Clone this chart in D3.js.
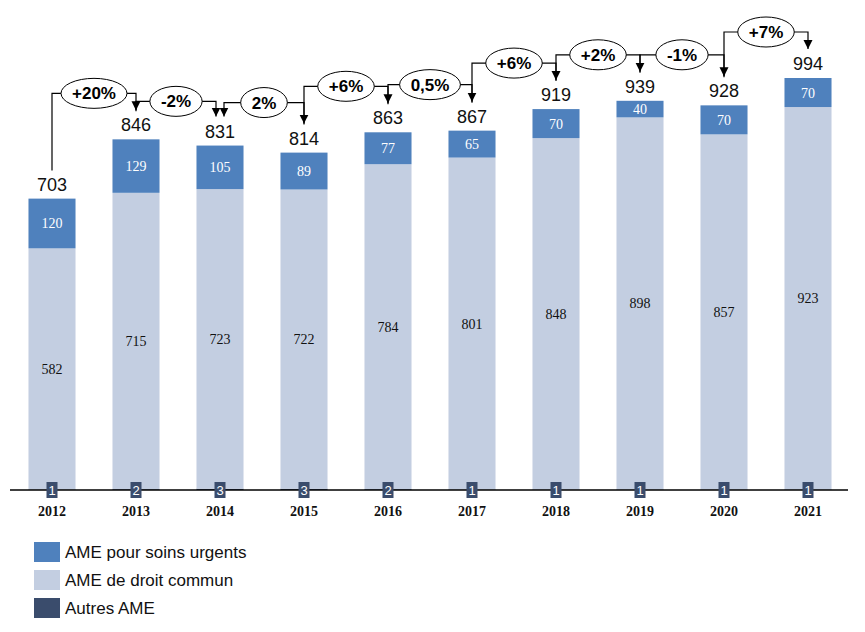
<!DOCTYPE html>
<html lang="fr">
<head>
<meta charset="utf-8">
<title>AME</title>
<script src="https://d3js.org/d3.v7.min.js"></script>
<style>
  body { margin: 0; background: #fff; }
  svg text { font-family: "Liberation Sans", "Noto Sans", sans-serif; }
  .serif { font-family: "Liberation Serif", "DejaVu Serif", serif !important; }
</style>
</head>
<body>
<div id="chart"></div>
<script>
var years = ["2012", "2013", "2014", "2015", "2016", "2017", "2018", "2019", "2020", "2021"];
var urgents = [120, 129, 105, 89, 77, 65, 70, 40, 70, 70];
var droitCommun = [582, 715, 723, 722, 784, 801, 848, 898, 857, 923];
var autres = [1, 2, 3, 3, 2, 1, 1, 1, 1, 1];
var totals = [703, 846, 831, 814, 863, 867, 919, 939, 928, 994];
var evolutions = ["+20%", "-2%", "2%", "+6%", "0,5%", "+6%", "+2%", "-1%", "+7%"];
var legendLabels = ["AME pour soins urgents", "AME de droit commun", "Autres AME"];

var colUrg = "#4f81bd", colDroit = "#c3cee1", colAutres = "#3a4c6c";

var w = 865, h = 632;
var base = 490;

var svg = d3.select("#chart").append("svg")
  .attr("width", w).attr("height", h);

var defs = svg.append("defs");
defs.append("marker")
  .attr("id", "arrow")
  .attr("viewBox", "0 0 10 10")
  .attr("refX", 10).attr("refY", 5)
  .attr("markerWidth", 9).attr("markerHeight", 10)
  .attr("markerUnits", "userSpaceOnUse")
  .attr("orient", "auto-start-reverse")
  .append("path").attr("d", "M0,0L10,5L0,10Z").attr("fill", "#000");

var xScale = d3.scaleBand()
  .domain(years)
  .range([10, 850])
  .paddingInner(0.44)
  .paddingOuter(0.22);

var yScale = d3.scaleLinear()
  .domain([0, 994])
  .range([base, 78]);

var rows = years.map(function(y, i) {
  return { year: y, a: autres[i], d: droitCommun[i], u: urgents[i], t: totals[i] };
});

var stack = d3.stack().keys(["a", "d", "u"]);
var series = stack(rows);
var colors = { a: colAutres, d: colDroit, u: colUrg };

svg.append("g").selectAll("g")
  .data(series)
  .enter().append("g")
  .attr("fill", function(s) { return colors[s.key]; })
  .selectAll("rect")
  .data(function(s) { return s; })
  .enter().append("rect")
  .attr("x", function(d) { return xScale(d.data.year); })
  .attr("width", xScale.bandwidth())
  .attr("y", function(d) { return yScale(d[1]); })
  .attr("height", function(d) { return yScale(d[0]) - yScale(d[1]); });

// segment labels
var cx = function(y) { return xScale(y) + xScale.bandwidth() / 2; };

svg.append("g").selectAll("text")
  .data(rows).enter().append("text")
  .attr("class", "serif")
  .attr("x", function(d) { return cx(d.year); })
  .attr("y", function(d) { return yScale(d.a + d.d / 2) + 5; })
  .attr("text-anchor", "middle")
  .attr("font-size", 14)
  .attr("fill", "#111")
  .text(function(d) { return d.d; });

svg.append("g").selectAll("text")
  .data(rows).enter().append("text")
  .attr("class", "serif")
  .attr("x", function(d) { return cx(d.year); })
  .attr("y", function(d) { return yScale(d.a + d.d + d.u / 2) + 5; })
  .attr("text-anchor", "middle")
  .attr("font-size", 14)
  .attr("fill", "#fff")
  .text(function(d) { return d.u; });

// totals
svg.append("g").selectAll("text")
  .data(rows).enter().append("text")
  .attr("x", function(d) { return cx(d.year); })
  .attr("y", function(d) { return yScale(d.t) - 8; })
  .attr("text-anchor", "middle")
  .attr("font-size", 18)
  .attr("fill", "#111")
  .text(function(d) { return d.t; });

// x axis
var xAxis = d3.axisBottom(xScale).tickSize(0).tickPadding(16);
var gx = svg.append("g")
  .attr("transform", "translate(0," + base + ")")
  .call(xAxis);
gx.select(".domain").attr("stroke", "#000").attr("stroke-width", 1.5).attr("d", "M10,0H848");
gx.selectAll("text")
  .attr("class", "serif")
  .attr("font-size", 14)
  .attr("font-weight", "bold")
  .attr("fill", "#111");

// autres labels boxes
var ga = svg.append("g").selectAll("g")
  .data(rows).enter().append("g")
  .attr("transform", function(d) { return "translate(" + cx(d.year) + "," + base + ")"; });
ga.append("rect")
  .attr("x", -5.5).attr("y", -8).attr("width", 11).attr("height", 16)
  .attr("fill", colAutres);
ga.append("text")
  .attr("text-anchor", "middle")
  .attr("y", 5)
  .attr("font-size", 13)
  .attr("fill", "#fff")
  .text(function(d) { return d.a; });

// evolution connectors
var ann = svg.append("g");
evolutions.forEach(function(lbl, i) {
  var g = ann.append("g");
  var x0 = cx(years[i]), x1 = cx(years[i + 1]);
  var yStart = yScale(totals[i]) - 28;
  var yEnd = yScale(totals[i + 1]) - 29;
  var yH = yScale(Math.max(totals[i], totals[i + 1])) - 46;
  if (i === 1) { x1 -= 4; yH += 8; }
  if (i === 2) { x0 += 4; yH += 3; }
  var path = g.append("path")
    .attr("d", "M" + x0 + "," + yStart + "V" + yH + "H" + x1 + "V" + yEnd)
    .attr("fill", "none")
    .attr("stroke", "#000")
    .attr("stroke-width", 1.2)
    .attr("marker-end", "url(#arrow)");
  if (i === 2) {
    path.attr("d", "M" + x0 + "," + (yScale(totals[i]) - 29) + "V" + yH + "H" + x1 + "V" + yEnd)
      .attr("marker-start", "url(#arrow)");
  }
  var mx = (x0 + x1) / 2;
  var ell = g.append("ellipse");
  var t = g.append("text")
    .attr("x", mx).attr("y", yH + 6)
    .attr("text-anchor", "middle")
    .attr("font-size", 17)
    .attr("font-weight", "bold")
    .attr("fill", "#000")
    .text(lbl);
  var bw = t.node().getComputedTextLength();
  ell.attr("cx", mx).attr("cy", yH)
    .attr("rx", bw / 2 + 11).attr("ry", 15)
    .attr("fill", "#fff")
    .attr("stroke", "#000")
    .attr("stroke-width", 1);
});

// legend
var legColors = [colUrg, colDroit, colAutres];
var leg = svg.append("g").selectAll("g")
  .data(legendLabels).enter().append("g")
  .attr("transform", function(d, i) { return "translate(34," + (542 + i * 28) + ")"; });
leg.append("rect")
  .attr("width", 26).attr("height", 20)
  .attr("fill", function(d, i) { return legColors[i]; });
leg.append("text")
  .attr("x", 31).attr("y", 16)
  .attr("font-size", 17)
  .attr("fill", "#111")
  .text(function(d) { return d; });
</script>
</body>
</html>
